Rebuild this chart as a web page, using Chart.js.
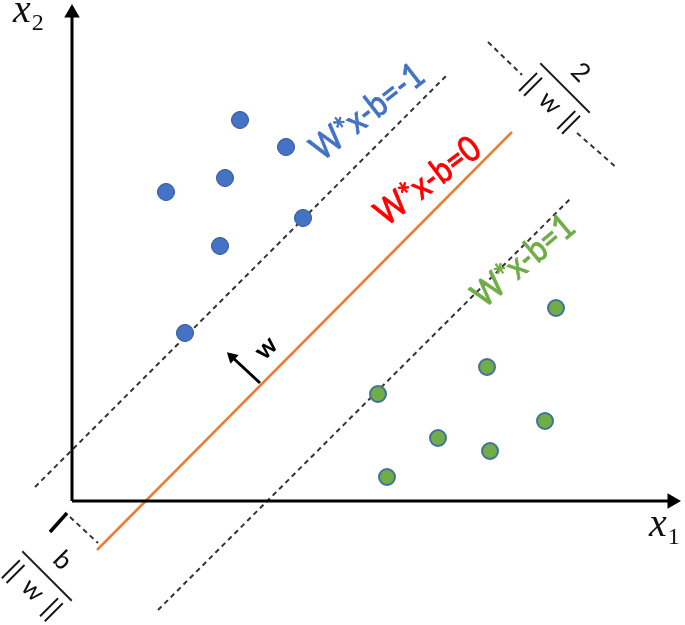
<!DOCTYPE html>
<html><head><meta charset="utf-8">
<script src="https://cdn.jsdelivr.net/npm/chart.js@4"></script>
<style>html,body{margin:0;padding:0;background:#fff}</style>
</head><body>
<canvas id="c" width="685" height="625"></canvas>
<script>
// ---- data (x1, x2 coordinates) ----
const blueX  = [16.8, 21.4, 15.3, 9.4, 23.1, 14.8, 11.3];
const blueY  = [38.1, 35.4, 32.3, 30.9, 28.3, 25.5, 16.8];
const greenX = [48.4, 41.5, 30.6, 47.3, 36.6, 41.8, 31.5];
const greenY = [19.3, 13.4, 10.7, 8.0, 6.3, 5.0, 2.4];
const hyperX = [2.5, 44.0];   const hyperY = [-4.9, 36.9];   // W*x-b=0
const upperX = [-3.7, 37.5];  const upperY = [1.4, 42.6];    // W*x-b=-1
const lowerX = [8.6, 50.0];   const lowerY = [-10.9, 30.4];  // W*x-b=1
const marginAX = [41.6, 45.0]; const marginAY = [45.9, 42.6];
const marginBX = [50.5, 54.5]; const marginBY = [36.8, 33.3];
const tickX = [-2.2, -0.5];   const tickY = [-3.1, -1.2];
const offX = [-0.2, 2.6];     const offY = [-1.6, -4.2];
const wArrX = [18.8, 16.0];   const wArrY = [11.8, 14.4];
const xAxisX = [0, 60.0];     const xAxisY = [0, 0];
const yAxisX = [0, 0];        const yAxisY = [0, 48.8];
const labelTexts = ['W*x-b=-1', 'W*x-b=0', 'W*x-b=1'];
const labelX = [25.0, 31.4, 41.2];
const labelY = [33.9, 27.4, 19.2];

const pts = (xs, ys) => xs.map((x, i) => ({x, y: ys[i]}));

function lineDs(xs, ys, color, width, dash, endRadius, rot) {
  return {
    data: pts(xs, ys), showLine: true, borderColor: color, borderWidth: width,
    borderDash: dash || [], pointRadius: [0, endRadius || 0], pointStyle: 'triangle',
    rotation: rot || 0, pointBackgroundColor: color, pointBorderWidth: 0,
    pointBorderColor: color, fill: false, tension: 0, clip: false
  };
}

const labelPlugin = {
  id: 'labels',
  afterDatasetsDraw(chart) {
    const ctx = chart.ctx, sx = chart.scales.x, sy = chart.scales.y;
    const P = (x, y) => [sx.getPixelForValue(x), sy.getPixelForValue(y)];
    ctx.save();
    // hyperplane labels
    const colors = ['#4472C4', '#FF0000', '#70AD47'];
    const angles = [38, 37, 40];
    const squeeze = 0.85;
    ctx.font = '100px Lato';
    const fs = 122 / (ctx.measureText('W*x-b=1').width * squeeze) * 100;
    labelTexts.forEach((t, i) => {
      const [px, py] = P(labelX[i], labelY[i]);
      ctx.save();
      ctx.translate(px, py);
      ctx.rotate(-angles[i] * Math.PI / 180);
      ctx.scale(squeeze, 1);
      ctx.font = fs.toFixed(1) + 'px Lato';
      ctx.fillStyle = colors[i];
      ctx.strokeStyle = colors[i];
      ctx.lineWidth = 0.9;
      ctx.textAlign = 'left'; ctx.textBaseline = 'alphabetic';
      ctx.fillText(t, 0, 0);
      ctx.strokeText(t, 0, 0);
      ctx.restore();
    });
    // w label
    {
      const [px, py] = P(19.4, 15.3);
      ctx.save(); ctx.translate(px, py); ctx.rotate(-45 * Math.PI / 180);
      ctx.font = 'bold 26px Lato'; ctx.fillStyle = '#000';
      ctx.textAlign = 'center'; ctx.textBaseline = 'middle';
      ctx.fillText('w', 0, 0); ctx.restore();
    }
    // fractions
    function fraction(cxv, cyv, num, numOff, denOff) {
      const [px, py] = P(cxv, cyv);
      ctx.save(); ctx.translate(px, py); ctx.rotate(45 * Math.PI / 180);
      ctx.strokeStyle = '#222'; ctx.lineWidth = 2;
      ctx.beginPath(); ctx.moveTo(-35, 0); ctx.lineTo(35, 0); ctx.stroke();
      ctx.fillStyle = '#111'; ctx.textAlign = 'center'; ctx.textBaseline = 'middle';
      ctx.font = '26px Lato';
      ctx.fillText(num, 0, -numOff);
      ctx.fillText('w', 0, denOff);
      ctx.font = '27px Lato';
      ctx.fillText('||', -27, denOff);
      ctx.fillText('||', 27, denOff);
      ctx.restore();
    }
    fraction(49.3, 41.3, '2', 22, 21);
    fraction(-2.5, -7.5, 'b', 22, 20);
    // axis titles
    function axisTitle(xv, yv, sub) {
      const [px, py] = P(xv, yv);
      ctx.fillStyle = '#111'; ctx.textAlign = 'left'; ctx.textBaseline = 'alphabetic';
      ctx.font = 'italic 40px "Liberation Serif"';
      ctx.fillText('x', px, py);
      const w = ctx.measureText('x').width;
      ctx.font = '24px "Liberation Serif"';
      ctx.fillText(sub, px + w + 1, py + 8);
    }
    axisTitle(-5.9, 47.9, '2');
    axisTitle(57.7, -3.5, '1');
    ctx.restore();
  }
};

new Chart(document.getElementById('c'), {
  type: 'scatter',
  data: {
    datasets: [
      { data: pts(blueX, blueY), pointRadius: 8.5, pointBackgroundColor: '#4472C4',
        pointBorderColor: '#2F5597', pointBorderWidth: 1, clip: false },
      { data: pts(greenX, greenY), pointRadius: 8, pointBackgroundColor: '#70AD47',
        pointBorderColor: '#41719C', pointBorderWidth: 2, clip: false },
      lineDs(wArrX, wArrY, '#000', 3, null, 7, -47),
      lineDs(xAxisX, xAxisY, '#000', 3, null, 9, 90),
      lineDs(yAxisX, yAxisY, '#000', 3, null, 9, 0),
      lineDs(hyperX, hyperY, '#ED7D31', 2.5),
      lineDs(upperX, upperY, '#333', 2, [5, 4]),
      lineDs(lowerX, lowerY, '#333', 2, [5, 4]),
      lineDs(marginAX, marginAY, '#333', 2, [5, 4]),
      lineDs(marginBX, marginBY, '#333', 2, [5, 4]),
      lineDs(tickX, tickY, '#000', 3.5),
      lineDs(offX, offY, '#333', 2, [5, 4])
    ]
  },
  options: {
    responsive: false, animation: false, events: [],
    layout: { padding: 0, autoPadding: false },
    plugins: { legend: { display: false }, tooltip: { enabled: false } },
    scales: {
      x: { type: 'linear', min: -7.2, max: 61.3, display: false },
      y: { type: 'linear', min: -12.4, max: 50.1, display: false }
    }
  },
  plugins: [labelPlugin]
});
</script>
</body></html>
